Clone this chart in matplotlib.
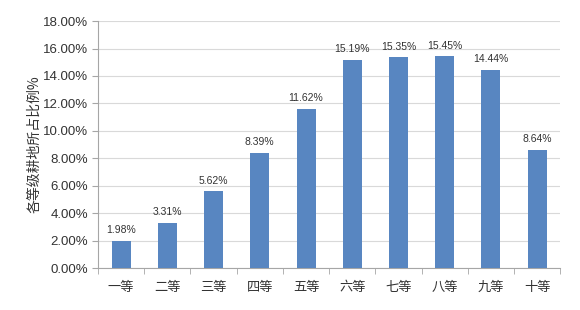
import matplotlib
matplotlib.use("Agg")
import matplotlib.pyplot as plt
from matplotlib.ticker import FuncFormatter, MultipleLocator

plt.rcParams['font.family'] = ['Noto Sans CJK SC', 'DejaVu Sans']

categories = ["一等", "二等", "三等", "四等", "五等", "六等", "七等", "八等", "九等", "十等"]
values = [1.98, 3.31, 5.62, 8.39, 11.62, 15.19, 15.35, 15.45, 14.44, 8.64]
labels = ["1.98%", "3.31%", "5.62%", "8.39%", "11.62%", "15.19%", "15.35%", "15.45%", "14.44%", "8.64%"]
ylabel = "各等级耕地所占比例%"

fig = plt.figure(figsize=(5.8, 3.1), dpi=100)
ax = fig.add_axes([0.169, 0.135, 0.797, 0.797])

x = list(range(len(categories)))
bars = ax.bar(x, values, width=0.41, color="#5886C1", zorder=3)
for xi, v, lab in zip(x, values, labels):
    ax.text(xi, v + 0.4, lab, ha="center", va="bottom", fontsize=7.5, color="#333333",
            family=['Liberation Sans', 'DejaVu Sans'])

ax.set_ylim(0, 18)
ax.set_xlim(-0.5, len(categories) - 0.5)
ax.yaxis.set_major_locator(MultipleLocator(2))
ax.yaxis.set_major_formatter(FuncFormatter(lambda v, p: f"{v:.2f}%"))
ax.grid(axis="y", color="#D9D9D9", linewidth=0.8, zorder=0)

ax.set_xticks(x)
ax.set_xticklabels(categories, fontsize=9.5, color="#333333")
ax.set_xticks([i - 0.5 for i in range(len(categories) + 1)], minor=True)
ax.tick_params(axis="x", which="major", length=0, pad=9)
ax.tick_params(axis="x", which="minor", length=4, color="#A6A6A6", direction="out")
ax.tick_params(axis="y", length=4, color="#A6A6A6", labelsize=9.5, labelcolor="#333333", pad=3)
for lab in ax.get_yticklabels():
    lab.set_family(['Liberation Sans', 'DejaVu Sans'])

for s in ["top", "right"]:
    ax.spines[s].set_visible(False)
for s in ["left", "bottom"]:
    ax.spines[s].set_color("#A6A6A6")
    ax.spines[s].set_linewidth(0.8)

ax.set_ylabel(ylabel, fontsize=10, color="#333333", labelpad=1)

fig.savefig("out.png", dpi=100)
